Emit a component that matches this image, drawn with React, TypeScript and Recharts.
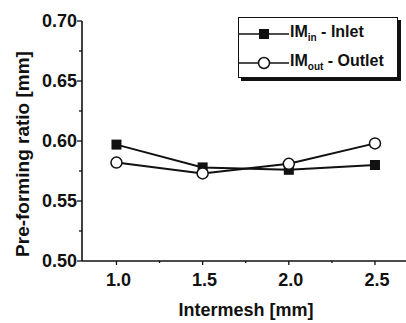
import { Label, Line, LineChart, XAxis, YAxis } from 'recharts'

// intermesh (mm) vs pre-forming ratio
const intermesh = [1.0, 1.5, 2.0, 2.5]
const inlet = [0.597, 0.578, 0.576, 0.58]
const outlet = [0.582, 0.573, 0.581, 0.598]
const xTicks = [1.0, 1.25, 1.5, 1.75, 2.0, 2.25, 2.5]
const yTicks = [0.5, 0.525, 0.55, 0.575, 0.6, 0.625, 0.65, 0.675, 0.7]

const data = intermesh.map((x, i) => ({ x, inlet: inlet[i], outlet: outlet[i] }))

const FONT = '"Liberation Sans", Arial, sans-serif'
const INK = '#111'

const isMajor = (v: number, step: number) => Math.abs(v / step - Math.round(v / step)) < 1e-6

const XTick = (props: any) => {
  const { x, y, payload } = props
  const major = isMajor(payload.value, 0.5)
  return (
    <g>
      <line x1={x} x2={x} y1={y} y2={y + (major ? 4 : 2)} stroke={INK} strokeWidth={1.3} />
      {major && (
        <text x={x + 2} y={y + 25} textAnchor="middle" fontSize={18} fontWeight="bold" fontFamily={FONT} fill={INK}>
          {payload.value.toFixed(1)}
        </text>
      )}
    </g>
  )
}

const YTick = (props: any) => {
  const { x, y, payload } = props
  const major = isMajor(payload.value, 0.05)
  return (
    <g>
      <line x1={x} x2={x - (major ? 5 : 3)} y1={y} y2={y} stroke={INK} strokeWidth={1.3} />
      {major && (
        <text x={x - 5} y={y + 6} textAnchor="end" fontSize={18} fontWeight="bold" fontFamily={FONT} fill={INK}>
          {payload.value.toFixed(2)}
        </text>
      )}
    </g>
  )
}

const SquareDot = (props: any) => {
  const { cx, cy, index } = props
  return <rect key={index} x={cx - 5} y={cy - 5} width={10} height={10} fill={INK} />
}

const CircleDot = (props: any) => {
  const { cx, cy, index } = props
  return <circle key={index} cx={cx} cy={cy} r={5.5} fill="#fff" stroke={INK} strokeWidth={1.5} />
}

// legend drawn as an overlay so it takes no room from the plot
const LegendBox = () => {
  const row = (marker: 'square' | 'circle', main: string, sub: string, rest: string) => (
    <div style={{ display: 'flex', alignItems: 'center', height: 29 }}>
      <svg width={50} height={20}>
        <line x1={0} x2={50} y1={10} y2={10} stroke={INK} strokeWidth={1.5} />
        {marker === 'square' ? (
          <rect x={20} y={5} width={10} height={10} fill={INK} />
        ) : (
          <circle cx={25} cy={10} r={5.5} fill="#fff" stroke={INK} strokeWidth={1.5} />
        )}
      </svg>
      <span style={{ fontFamily: FONT, fontWeight: 'bold', fontSize: 16, color: INK, marginLeft: 1, whiteSpace: 'nowrap' }}>
        {main}
        <sub style={{ fontSize: 10 }}>{sub}</sub>
        {rest}
      </span>
    </div>
  )
  return (
    <div
      style={{
        position: 'absolute',
        left: 238,
        top: 17,
        width: 160,
        height: 61,
        border: `1.5px solid ${INK}`,
        boxShadow: `3px 3px 0 ${INK}`,
        background: '#fff',
        boxSizing: 'border-box',
        paddingTop: 1,
      }}
    >
      {row('square', 'IM', 'in', ' - Inlet')}
      {row('circle', 'IM', 'out', ' - Outlet')}
    </div>
  )
}

export default function App() {
  return (
    <div style={{ position: 'absolute', left: 0, top: 0, width: 406, height: 323, background: '#fff' }}>
      <LineChart width={406} height={323} data={data} margin={{ top: 21, right: 0, bottom: 0, left: 0 }}>
        <XAxis
          dataKey="x"
          type="number"
          domain={[0.8, 2.68]}
          ticks={xTicks}
          interval={0}
          allowDataOverflow
          height={62}
          tickLine={false}
          tickSize={0}
          tickMargin={0}
          tick={<XTick />}
          axisLine={{ stroke: INK, strokeWidth: 1.6 }}
        >
          <Label
            content={() => (
              <text x={246} y={316} textAnchor="middle" fontSize={18} fontWeight="bold" fontFamily={FONT} fill={INK}>
                Intermesh [mm]
              </text>
            )}
          />
        </XAxis>
        <YAxis
          type="number"
          domain={[0.5, 0.7]}
          ticks={yTicks}
          interval={0}
          allowDataOverflow
          width={82}
          tickLine={false}
          tickSize={0}
          tickMargin={0}
          tick={<YTick />}
          axisLine={{ stroke: INK, strokeWidth: 1.6 }}
        >
          <Label
            content={() => (
              <text
                x={22}
                y={154}
                transform="rotate(-90 22 154)"
                textAnchor="middle"
                dominantBaseline="central"
                fontSize={19}
                fontWeight="bold"
                fontFamily={FONT}
                fill={INK}
              >
                Pre-forming ratio [mm]
              </text>
            )}
          />
        </YAxis>
        <Line
          dataKey="inlet"
          stroke={INK}
          strokeWidth={2}
          dot={<SquareDot />}
          activeDot={false}
          isAnimationActive={false}
        />
        <Line
          dataKey="outlet"
          stroke={INK}
          strokeWidth={2}
          dot={<CircleDot />}
          activeDot={false}
          isAnimationActive={false}
        />
      </LineChart>
      <LegendBox />
    </div>
  )
}
